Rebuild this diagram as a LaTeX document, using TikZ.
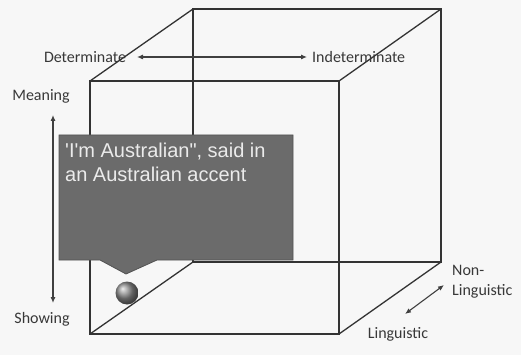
\documentclass[tikz,border=0pt]{standalone}
\usepackage{fontspec}
\setmainfont{Carlito}
\newfontfamily\arialfont{Liberation Sans}
\usetikzlibrary{arrows.meta}
\begin{document}
\begin{tikzpicture}[x=1pt,y=-1pt,
  edge/.style={draw=black!80,line width=1.3pt},
  axis/.style={draw=black!75,line width=1.1pt,{Latex[length=6pt,width=5pt]}-{Latex[length=6pt,width=5pt]}},
  lbl/.style={text=black!78,font=\fontsize{16}{17}\selectfont,inner sep=0pt},
  callout/.style={fill=black!58,draw=black!68,line width=0.8pt}]
\fill[black!3] (0,0) rectangle (521,355);
\useasboundingbox (0,0) rectangle (521,355);
% cube corners
\coordinate (ftl) at (90,81);
\coordinate (ftr) at (339,81);
\coordinate (fbr) at (339,334);
\coordinate (fbl) at (90,334);
\coordinate (btl) at (193,9);
\coordinate (btr) at (441,9);
\coordinate (bbr) at (441,262);
\coordinate (bbl) at (193,262);
% edges
\draw[edge] (ftl) -- (ftr) -- (fbr) -- (fbl) -- cycle;
\draw[edge] (btl) -- (btr) -- (bbr) -- (bbl) -- cycle;
\draw[edge] (ftl) -- (btl);
\draw[edge] (ftr) -- (btr);
\draw[edge] (fbr) -- (bbr);
\draw[edge] (fbl) -- (bbl);
% callout
\coordinate (c1) at (59,135);
\coordinate (c2) at (293,135);
\coordinate (c3) at (293,260);
\coordinate (c4) at (157,260);
\coordinate (c5) at (126,274);
\coordinate (c6) at (100,260);
\coordinate (c7) at (59,260);
\path[callout] (c1) -- (c2) -- (c3) -- (c4) -- (c5) -- (c6) -- (c7) -- cycle;
\node[anchor=north west,text=white!92!black,font=\arialfont\fontsize{20}{23.5}\selectfont,align=left,inner sep=0pt] (ctext) at (65,143) {'I'm Australian", said in\\an Australian accent};
% ball
\shade[ball color=black!45] (127,293) circle (11.5) node (ball) {};
% labels
\node[lbl] (det) at (85,57) {Determinate};
\node[lbl,anchor=west] (indet) at (312,57) {Indeterminate};
\node[lbl] (mean) at (41,96) {Meaning};
\node[lbl] (show) at (42,319) {Showing};
\node[lbl,anchor=west,align=left,font=\fontsize{16}{20}\selectfont] (nonling) at (452,282) {Non-\\Linguistic};
\node[lbl] (ling) at (398,334) {Linguistic};
% axis arrows
\coordinate (dl) at (137,57);
\coordinate (dr) at (307,57);
\coordinate (mt) at (53,115);
\coordinate (mb) at (53,303);
\coordinate (nt) at (444,285);
\coordinate (nb) at (405,314);
\draw[axis] (dl) -- (dr);
\draw[axis] (mt) -- (mb);
\draw[axis] (nb) -- (nt);
\end{tikzpicture}
\end{document}
